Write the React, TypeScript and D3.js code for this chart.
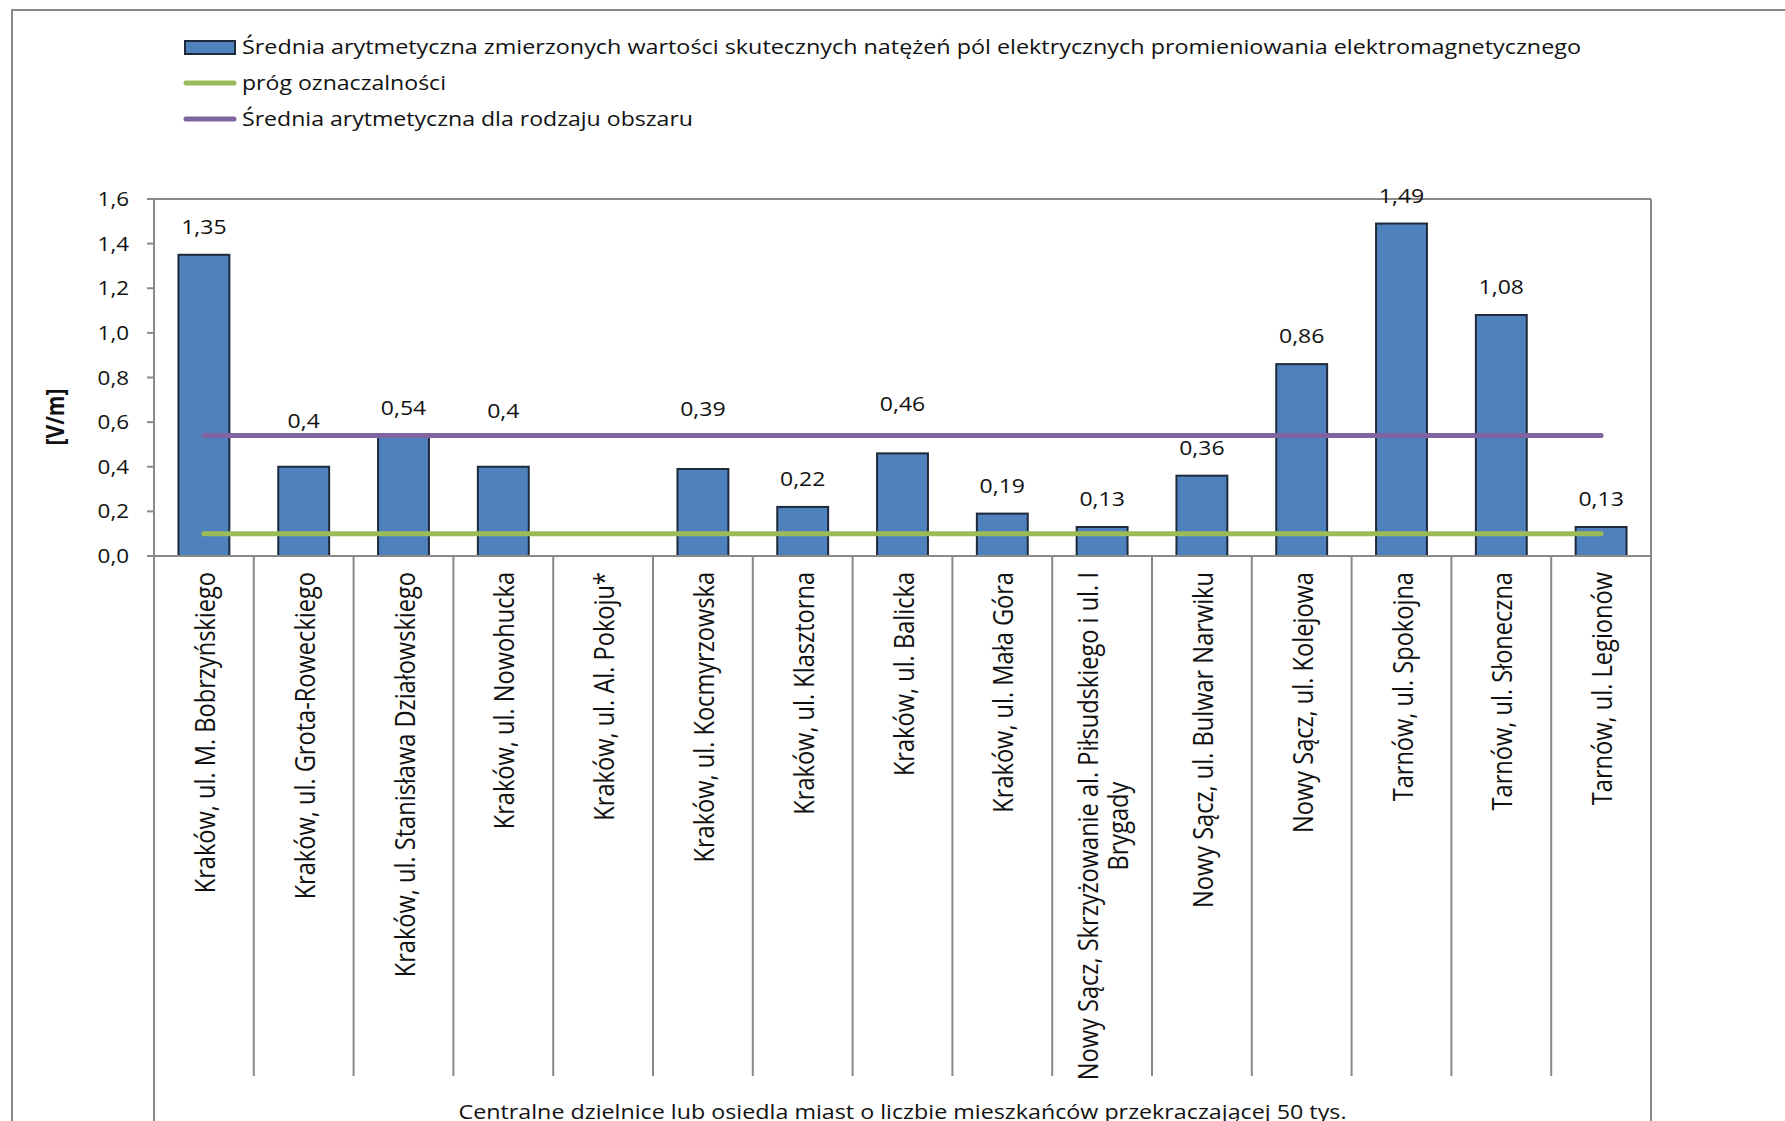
import * as React from 'react';
import * as d3 from 'd3';

const categories = [
    'Kraków, ul. M. Bobrzyńskiego',
    'Kraków, ul. Grota-Roweckiego',
    'Kraków, ul. Stanisława Działowskiego',
    'Kraków, ul. Nowohucka',
    'Kraków, ul. Al. Pokoju*',
    'Kraków, ul. Kocmyrzowska',
    'Kraków, ul. Klasztorna',
    'Kraków, ul. Balicka',
    'Kraków, ul. Mała Góra',
    'Nowy Sącz, Skrzyżowanie al. Piłsudskiego i ul. I\nBrygady',
    'Nowy Sącz, ul. Bulwar Narwiku',
    'Nowy Sącz, ul. Kolejowa',
    'Tarnów, ul. Spokojna',
    'Tarnów, ul. Słoneczna',
    'Tarnów, ul. Legionów',
];
const values: (number | null)[] = [1.35, 0.4, 0.54, 0.4, null, 0.39, 0.22, 0.46, 0.19, 0.13, 0.36, 0.86, 1.49, 1.08, 0.13];
const thresholdValue = 0.1;
const areaMeanValue = 0.54;
const yTicks = [0, 0.2, 0.4, 0.6, 0.8, 1.0, 1.2, 1.4, 1.6];
const legendLabels = [
    'Średnia arytmetyczna zmierzonych wartości skutecznych natężeń pól elektrycznych promieniowania elektromagnetycznego',
    'próg oznaczalności',
    'Średnia arytmetyczna dla rodzaju obszaru',
];
const groupLabel = 'Centralne dzielnice lub osiedla miast o liczbie mieszkańców przekraczającej 50 tys.';
const yTitle = '[V/m]';

const W = 1785;
const H = 1121;
const font = '"Open Sans", "DejaVu Sans", sans-serif';
const sx = 1.15; // the original picture is a bit wider than tall
const gray = '#898989';
const barFill = '#4f81bd';
const green = '#9bbb59';
const purple = '#8064a2';

// labels that were dragged up off the purple line in the original (px)
const labelNudge: Record<number, number> = { 1: -18, 3: -28, 5: -32, 7: -21 };

const fmt = (v: number) => d3.format('.1f')(v).replace('.', ',');
const fmtLabel = (v: number) => String(v).replace('.', ',');

const App: React.FunctionComponent = () => {
    const ref = React.useRef<SVGSVGElement>(null);

    React.useEffect(() => {
        if (!ref.current) {
            return;
        }
        const svg = d3.select(ref.current);
        svg.selectAll('*').remove();

        const x0 = 154, x1 = 1651, yTop = 199, yBottom = 556;
        const x = d3.scaleBand<string>().domain(categories).range([x0, x1]).paddingInner(0.49).paddingOuter(0.245);
        const y = d3.scaleLinear().domain([0, 1.6]).range([yBottom, yTop]);
        const step = x.step();
        const cx = (c: string) => (x(c) as number) + x.bandwidth() / 2;

        // outer chart frame (cut off right and bottom)
        svg.append('path')
            .attr('d', `M12,${H + 5}V10H${W + 5}`)
            .attr('fill', 'none').attr('stroke', gray).attr('stroke-width', 2);

        // legend
        const legend = svg.append('g');
        const rowY = [47.5, 83, 119];
        legend.append('rect')
            .attr('x', 185).attr('y', 41).attr('width', 50).attr('height', 13)
            .attr('fill', barFill).attr('stroke', '#1e2a3a').attr('stroke-width', 2);
        [green, purple].forEach((c, i) => {
            legend.append('line')
                .attr('x1', 186).attr('x2', 234).attr('y1', rowY[i + 1]).attr('y2', rowY[i + 1])
                .attr('stroke', c).attr('stroke-width', 5).attr('stroke-linecap', 'round');
        });
        const legendWidths = [1339, 204, 451];
        legendLabels.forEach((t, i) => {
            legend.append('text')
                .attr('x', 242).attr('y', rowY[i] + 6.5)
                .attr('font-family', font).attr('font-size', 19.5)
                .attr('textLength', legendWidths[i]).attr('lengthAdjust', 'spacingAndGlyphs')
                .attr('fill', '#111')
                .text(t);
        });

        // category separators
        const sep = svg.append('g');
        d3.range(categories.length + 1).forEach(i => {
            const xx = x0 + i * step;
            const outer = i === 0 || i === categories.length;
            sep.append('line')
                .attr('x1', xx).attr('x2', xx)
                .attr('y1', outer ? yTop : yBottom).attr('y2', outer ? H + 5 : 1076)
                .attr('stroke', gray).attr('stroke-width', 2);
        });

        // plot border top
        svg.append('line').attr('x1', x0).attr('x2', x1).attr('y1', yTop).attr('y2', yTop)
            .attr('stroke', gray).attr('stroke-width', 2);

        // y ticks
        const yAxis = svg.append('g');
        yTicks.forEach(t => {
            yAxis.append('line').attr('x1', 147).attr('x2', x0).attr('y1', y(t)).attr('y2', y(t))
                .attr('stroke', gray).attr('stroke-width', 2);
            yAxis.append('text')
                .attr('transform', `translate(129,${y(t) + 7}) scale(${sx},1)`)
                .attr('text-anchor', 'end')
                .attr('font-family', font).attr('font-size', 19.5).attr('fill', '#111')
                .text(fmt(t));
        });

        svg.append('text')
            .attr('transform', `translate(64,417) scale(${sx},1) rotate(-90)`)
            .attr('text-anchor', 'middle')
            .attr('font-family', font).attr('font-size', 21).attr('font-weight', 'bold').attr('fill', '#111')
            .text(yTitle);

        // bars
        const bars = categories.map((c, i) => ({ c, i, v: values[i] })).filter(d => d.v !== null) as { c: string; i: number; v: number }[];
        svg.append('g').selectAll('rect')
            .data(bars)
            .join('rect')
            .attr('x', d => x(d.c) as number)
            .attr('width', x.bandwidth())
            .attr('y', d => y(d.v))
            .attr('height', d => y(0) - y(d.v))
            .attr('fill', barFill)
            .attr('stroke', '#1e2a3a')
            .attr('stroke-width', 2);

        // x axis line
        svg.append('line').attr('x1', x0).attr('x2', x1).attr('y1', yBottom).attr('y2', yBottom)
            .attr('stroke', gray).attr('stroke-width', 2);

        // reference lines
        const first = categories[0];
        const last = categories[categories.length - 1];
        const line = d3.line<[number, number]>().x(d => d[0]).y(d => d[1]);
        [[thresholdValue, green], [areaMeanValue, purple]].forEach(([v, c]) => {
            svg.append('path')
                .attr('d', line([[cx(first), y(v as number)], [cx(last), y(v as number)]]))
                .attr('stroke', c as string).attr('stroke-width', 5)
                .attr('stroke-linecap', 'round').attr('fill', 'none');
        });

        // data labels
        svg.append('g').selectAll('text')
            .data(bars)
            .join('text')
            .attr('transform', d => `translate(${cx(d.c)},${y(d.v) - 21 + (labelNudge[d.i] || 0)}) scale(${sx},1)`)
            .attr('text-anchor', 'middle')
            .attr('font-family', font).attr('font-size', 20).attr('fill', '#111')
            .text(d => fmtLabel(d.v));

        // category labels
        const labelTop = 572;
        const lineGap = 30;
        categories.forEach(c => {
            const lines = c.split('\n');
            const base = cx(c) + 11 - (lines.length - 1) * lineGap / 2;
            const g = svg.append('g');
            const texts = lines.map(t => g.append('text')
                .attr('font-family', font).attr('font-size', 23.6).attr('fill', '#111')
                .attr('text-anchor', 'middle')
                .text(t));
            const lengths = texts.map(t => (t.node() as SVGTextElement).getComputedTextLength());
            const maxLen = d3.max(lengths) as number;
            const mid = labelTop + maxLen / 2;
            texts.forEach((t, i) => {
                t.attr('transform', `translate(${base + i * lineGap},${mid}) scale(${sx},1) rotate(-90)`);
            });
        });

        // group label (cut off at bottom)
        svg.append('text')
            .attr('transform', `translate(${(x0 + x1) / 2},1119) scale(${sx},1)`)
            .attr('text-anchor', 'middle')
            .attr('font-family', font).attr('font-size', 20).attr('fill', '#111')
            .attr('textLength', 888 / sx).attr('lengthAdjust', 'spacingAndGlyphs')
            .text(groupLabel);
    });

    return <svg ref={ref} width={W} height={H} style={{ position: 'absolute', left: 0, top: 0, background: '#fff' }} />;
};

export default App;
